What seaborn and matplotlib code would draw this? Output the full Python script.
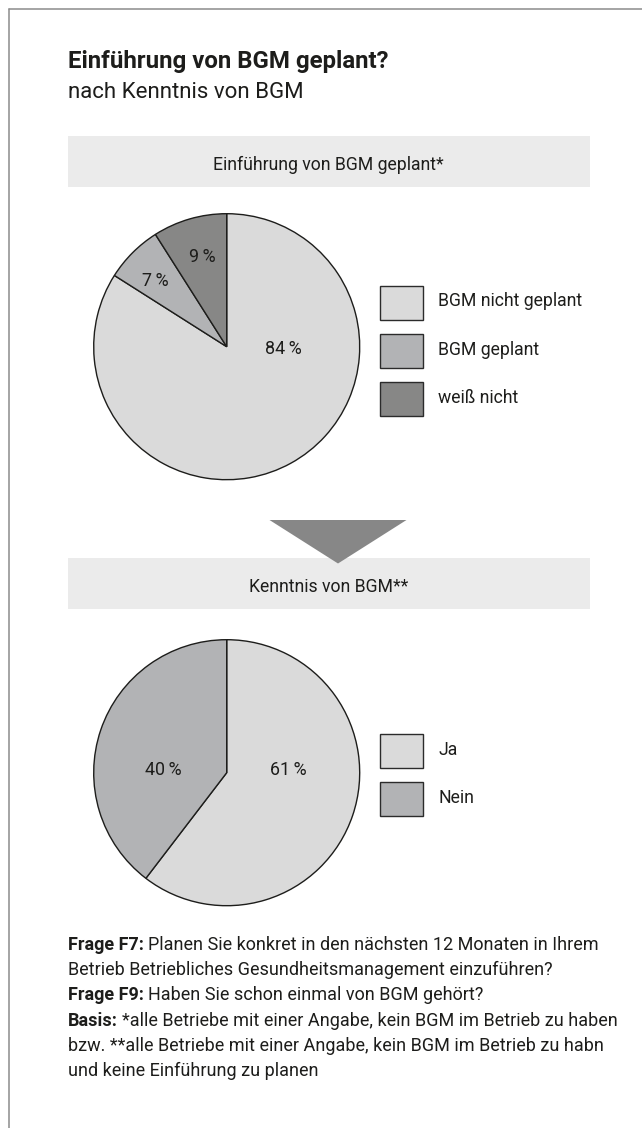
import matplotlib
matplotlib.use("Agg")
import matplotlib.pyplot as plt
import seaborn as sns
from matplotlib.patches import Rectangle, Polygon
from matplotlib.lines import Line2D

# ---- data -------------------------------------------------------------
plan_labels = ["BGM nicht geplant", "BGM geplant", "weiß nicht"]
plan_values = [84, 7, 9]

know_labels = ["Ja", "Nein"]
know_values = [61, 40]

title = "Einführung von BGM geplant?"
subtitle = "nach Kenntnis von BGM"
panel_titles = ["Einführung von BGM geplant*", "Kenntnis von BGM**"]

footer_lines = [
    ("Frage F7:", "Planen Sie konkret in den nächsten 12 Monaten in Ihrem"),
    ("", "Betrieb Betriebliches Gesundheitsmanagement einzuführen?"),
    ("Frage F9:", "Haben Sie schon einmal von BGM gehört?"),
    ("Basis:", "*alle Betriebe mit einer Angabe, kein BGM im Betrieb zu haben"),
    ("", "bzw. **alle Betriebe mit einer Angabe, kein BGM im Betrieb zu habn"),
    ("", "und keine Einführung zu planen"),
]

# ---- style ------------------------------------------------------------
INK = "#1d1d1b"
EDGE = "#1d1d1b"
BAND = "#ebebeb"
FRAME = "#8c8c8c"
ARROW = "#878787"
greys = sns.color_palette(["#dadada", "#b2b3b5", "#878786"])

sns.set_theme(style="white")
plt.rcParams["font.family"] = ["Roboto", "DejaVu Sans"]
plt.rcParams["text.color"] = INK

W, H = 642, 1128
fig = plt.figure(figsize=(W / 100, H / 100), dpi=100)
fig.patch.set_facecolor("white")


def fx(px):
    return px / W


def fy(py):
    return 1 - py / H


# frame (top and left rule)
fig.add_artist(Line2D([fx(9), 1], [fy(9), fy(9)], color=FRAME, lw=1.1,
                      transform=fig.transFigure))
fig.add_artist(Line2D([fx(9), fx(9)], [fy(9), 0], color=FRAME, lw=1.1,
                      transform=fig.transFigure))

# headline
fig.text(fx(67.5), fy(68), title, fontsize=17.3, fontweight="bold",
         va="baseline", ha="left")
fig.text(fx(67.5), fy(98), subtitle, fontsize=16, va="baseline", ha="left")

# grey panel headers
BAND_X0, BAND_X1 = 67.5, 590
for (top, bottom), txt in zip([(136, 187), (558, 609)], panel_titles):
    fig.add_artist(Rectangle((fx(BAND_X0), fy(bottom)), (BAND_X1 - BAND_X0) / W,
                             (bottom - top) / H, transform=fig.transFigure,
                             facecolor=BAND, edgecolor="none", zorder=0))
    fig.text(fx((BAND_X0 + BAND_X1) / 2), fy((top + bottom) / 2 + 1), txt,
             fontsize=12.7, ha="center", va="center_baseline")

# arrow between the two panels
fig.add_artist(Polygon([(fx(269.5), fy(520)), (fx(406.5), fy(520)),
                        (fx(338), fy(563.5))], closed=True,
                       transform=fig.transFigure, facecolor=ARROW,
                       edgecolor="none", zorder=2))

R = 133  # pie radius in pixels
LEG_FS = 12.7
LEG_SHIFT_PX = 1.6


def draw_pie(cx, cy, values, labels, colors, label_offsets, legend_top):
    ax = fig.add_axes([fx(cx - R), fy(cy + R), 2 * R / W, 2 * R / H])
    wedges, _ = ax.pie(values, colors=colors, startangle=90,
                       counterclock=False,
                       wedgeprops=dict(edgecolor=EDGE, linewidth=1.0))
    ax.set_xlim(-1, 1)
    ax.set_ylim(-1, 1)
    ax.set_axis_off()
    for w in wedges:
        w.set_clip_on(False)
    for v, (dx, dy) in zip(values, label_offsets):
        ax.text(dx / R, -dy / R, f"{v}\u2009%", fontsize=12.9,
                ha="center", va="center_baseline")
    leg = fig.legend(wedges, labels, loc="upper left",
                     bbox_to_anchor=(fx(380), fy(legend_top - LEG_SHIFT_PX)),
                     frameon=False, borderpad=0, borderaxespad=0,
                     fontsize=LEG_FS, handlelength=2.42, handleheight=2.59,
                     handletextpad=0.89, labelspacing=0.8)
    for p in leg.get_patches():
        p.set_y(p.get_y() - LEG_SHIFT_PX * 0.72)
        p.set_edgecolor("#2b2b2b")
    return ax


draw_pie(226.7, 346.7, plan_values, plan_labels, greys[:3],
         [(56.6, 0), (-71.7, -67.7), (-24.2, -91.7)], 285.7)
draw_pie(226.7, 772.7, know_values, know_labels, greys[:2],
         [(62, -5), (-63.4, -5)], 734)

# footnotes: bold lead-in followed by regular text
renderer = fig.canvas.get_renderer()
FOOT_FS = 13
y0, step = 950, 25.2
for i, (bold, rest) in enumerate(footer_lines):
    y = fy(y0 + i * step)
    x = 67.5
    if bold:
        t = fig.text(fx(x), y, bold, fontsize=FOOT_FS, fontweight="bold",
                     va="baseline", ha="left")
        bb = t.get_window_extent(renderer=renderer)
        x += bb.width + 4.5
    fig.text(fx(x), y, rest, fontsize=FOOT_FS, va="baseline", ha="left")

fig.savefig("out.png", dpi=100, facecolor="white")
